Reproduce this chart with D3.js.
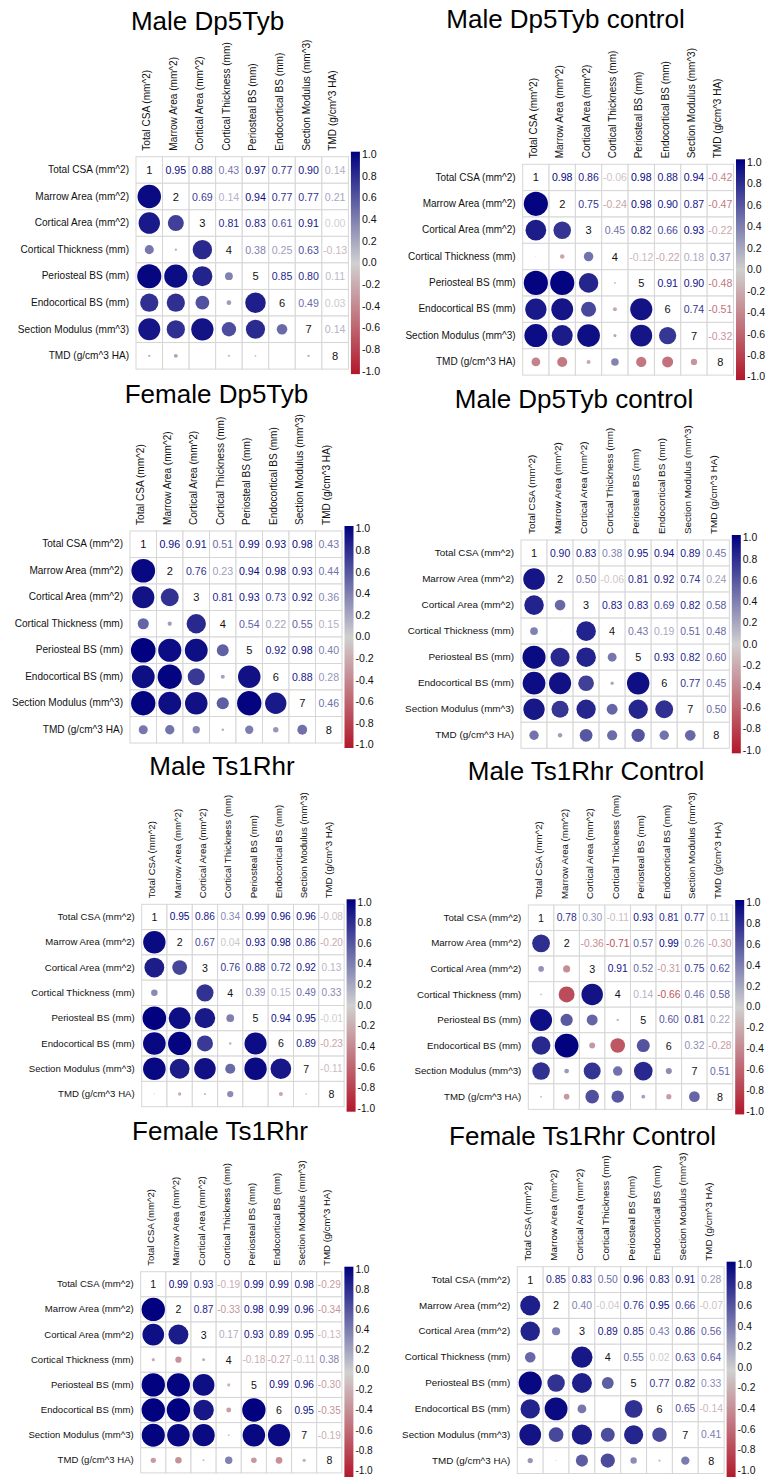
<!DOCTYPE html>
<html>
<head>
<meta charset="utf-8">
<script src="https://cdn.jsdelivr.net/npm/d3@7"></script>
<style>
  html, body { margin: 0; padding: 0; background: #fff; }
  svg { display: block; font-family: "Liberation Sans", Arial, sans-serif; }
</style>
</head>
<body>
<svg id="chart" width="766" height="1477"></svg>
<script>
// Bone parameters compared in every correlation matrix
const variables = [
  "Total CSA (mm^2)", "Marrow Area (mm^2)", "Cortical Area (mm^2)",
  "Cortical Thickness (mm)", "Periosteal BS (mm)", "Endocortical BS (mm)",
  "Section Modulus (mm^3)", "TMD (g/cm^3 HA)"
];

const panelTitles = [
  "Male Dp5Tyb", "Male Dp5Tyb control",
  "Female Dp5Tyb", "Male Dp5Tyb control",
  "Male Ts1Rhr", "Male Ts1Rhr Control",
  "Female Ts1Rhr", "Female Ts1Rhr Control"
];

// Upper-triangle Pearson coefficients, row by row (row i holds columns i+1..8)
const maleDp5Tyb = [
  [0.95, 0.88, 0.43, 0.97, 0.77, 0.90, 0.14],
  [0.69, 0.14, 0.94, 0.77, 0.77, 0.21],
  [0.81, 0.83, 0.61, 0.91, 0.00],
  [0.38, 0.25, 0.63, -0.13],
  [0.85, 0.80, 0.11],
  [0.49, 0.03],
  [0.14]
];
const maleDp5TybControlA = [
  [0.98, 0.86, -0.06, 0.98, 0.88, 0.94, -0.42],
  [0.75, -0.24, 0.98, 0.90, 0.87, -0.47],
  [0.45, 0.82, 0.66, 0.93, -0.22],
  [-0.12, -0.22, 0.18, 0.37],
  [0.91, 0.90, -0.48],
  [0.74, -0.51],
  [-0.32]
];
const femaleDp5Tyb = [
  [0.96, 0.91, 0.51, 0.99, 0.93, 0.98, 0.43],
  [0.76, 0.23, 0.94, 0.98, 0.93, 0.44],
  [0.81, 0.93, 0.73, 0.92, 0.36],
  [0.54, 0.22, 0.55, 0.15],
  [0.92, 0.98, 0.40],
  [0.88, 0.28],
  [0.46]
];
const maleDp5TybControlB = [
  [0.90, 0.83, 0.38, 0.95, 0.94, 0.89, 0.45],
  [0.50, -0.06, 0.81, 0.92, 0.74, 0.24],
  [0.83, 0.83, 0.69, 0.82, 0.58],
  [0.43, 0.19, 0.51, 0.48],
  [0.93, 0.82, 0.60],
  [0.77, 0.45],
  [0.50]
];
const maleTs1Rhr = [
  [0.95, 0.86, 0.34, 0.99, 0.96, 0.96, -0.08],
  [0.67, 0.04, 0.93, 0.98, 0.86, -0.20],
  [0.76, 0.88, 0.72, 0.92, 0.13],
  [0.39, 0.15, 0.49, 0.33],
  [0.94, 0.95, -0.01],
  [0.89, -0.23],
  [-0.11]
];
const maleTs1RhrControl = [
  [0.78, 0.30, -0.11, 0.93, 0.81, 0.77, 0.11],
  [-0.36, -0.71, 0.57, 0.99, 0.26, -0.30],
  [0.91, 0.52, -0.31, 0.75, 0.62],
  [0.14, -0.66, 0.46, 0.58],
  [0.60, 0.81, 0.22],
  [0.32, -0.28],
  [0.51]
];
const femaleTs1Rhr = [
  [0.99, 0.93, -0.19, 0.99, 0.99, 0.98, -0.29],
  [0.87, -0.33, 0.98, 0.99, 0.96, -0.34],
  [0.17, 0.93, 0.89, 0.95, -0.13],
  [-0.18, -0.27, -0.11, 0.38],
  [0.99, 0.96, -0.30],
  [0.95, -0.35],
  [-0.19]
];
const femaleTs1RhrControl = [
  [0.85, 0.83, 0.50, 0.96, 0.83, 0.91, 0.28],
  [0.40, -0.04, 0.76, 0.95, 0.66, -0.07],
  [0.89, 0.85, 0.43, 0.86, 0.56],
  [0.55, 0.02, 0.63, 0.64],
  [0.77, 0.82, 0.33],
  [0.65, -0.14],
  [0.41]
];

const panelData = [
  maleDp5Tyb, maleDp5TybControlA, femaleDp5Tyb, maleDp5TybControlB,
  maleTs1Rhr, maleTs1RhrControl, femaleTs1Rhr, femaleTs1RhrControl
];

const colorTicks = [1.0, 0.8, 0.6, 0.4, 0.2, 0.0, -0.2, -0.4, -0.6, -0.8, -1.0];

// Placement of each matrix on the page: grid origin, cell size, title anchor
const layout = [
  { x0: 136.0, y0: 156.7, cell: 26.55, tx: 207.5, ty: 30 },
  { x0: 522.7, y0: 164.3, cell: 26.35, tx: 565.5, ty: 28 },
  { x0: 130.0, y0: 531.0, cell: 26.50, tx: 216.5, ty: 403 },
  { x0: 521.0, y0: 540.0, cell: 26.04, tx: 574.0, ty: 408 },
  { x0: 141.7, y0: 904.3, cell: 25.30, tx: 222.0, ty: 775 },
  { x0: 528.3, y0: 905.0, cell: 25.55, tx: 586.0, ty: 780 },
  { x0: 140.7, y0: 1271.7, cell: 25.15, tx: 220.0, ty: 1140 },
  { x0: 517.3, y0: 1266.7, cell: 25.85, tx: 582.5, ty: 1145 }
];

const pageHeight = 1477;

const color = d3.scaleLinear()
  .domain([-1, 0, 1])
  .range(["#B2182B", "#D0D0D0", "#00007F"])
  .interpolate(d3.interpolateRgb);

const svg = d3.select("#chart");
const defs = svg.append("defs");

// Shared vertical gradient for the colour keys
const grad = defs.append("linearGradient")
  .attr("id", "corrKey")
  .attr("x1", 0).attr("y1", 0).attr("x2", 0).attr("y2", 1);
d3.range(0, 1.0001, 0.05).forEach(t => {
  grad.append("stop").attr("offset", t).attr("stop-color", color(1 - 2 * t));
});

const n = variables.length;

function fullMatrix(upper) {
  return d3.range(n).map(i => d3.range(n).map(j => {
    if (i === j) return 1;
    return i < j ? upper[i][j - i - 1] : upper[j][i - j - 1];
  }));
}

panelData.forEach((upper, p) => {
  const L = layout[p];
  const m = fullMatrix(upper);
  const size = L.cell * n;
  const x = d3.scaleBand().domain(d3.range(n)).range([L.x0, L.x0 + size]);
  const y = d3.scaleBand().domain(d3.range(n)).range([L.y0, L.y0 + size]);
  const r = d3.scalePow().exponent(1.2).domain([0, 1]).range([0, L.cell * 0.47]);
  const numSize = L.cell * 0.4;
  const labSize = L.cell * 0.38;

  const g = svg.append("g").attr("class", "panel");

  g.append("text")
    .attr("x", L.tx).attr("y", L.ty)
    .attr("text-anchor", "middle")
    .attr("font-size", 26)
    .attr("fill", "#000")
    .text(panelTitles[p]);

  const cells = [];
  m.forEach((row, i) => row.forEach((v, j) => cells.push({ i, j, v })));

  // cell grid
  g.selectAll("rect.cell").data(cells).join("rect")
    .attr("class", "cell")
    .attr("x", d => x(d.j)).attr("y", d => y(d.i))
    .attr("width", x.bandwidth()).attr("height", y.bandwidth())
    .attr("fill", "#fff")
    .attr("stroke", "#d6d6d6")
    .attr("stroke-width", 1);

  // lower triangle: circles
  g.selectAll("circle.mark").data(cells.filter(d => d.i > d.j)).join("circle")
    .attr("class", "mark")
    .attr("cx", d => x(d.j) + x.bandwidth() / 2)
    .attr("cy", d => y(d.i) + y.bandwidth() / 2)
    .attr("r", d => r(Math.abs(d.v)))
    .attr("fill", d => color(d.v));

  // upper triangle: coefficients
  g.selectAll("text.coef").data(cells.filter(d => d.i < d.j)).join("text")
    .attr("class", "coef")
    .attr("x", d => x(d.j) + x.bandwidth() / 2)
    .attr("y", d => y(d.i) + y.bandwidth() / 2)
    .attr("text-anchor", "middle")
    .attr("dominant-baseline", "central")
    .attr("font-size", numSize)
    .attr("fill", d => color(d.v))
    .text(d => d.v.toFixed(2));

  // diagonal: variable index
  g.selectAll("text.diag").data(cells.filter(d => d.i === d.j)).join("text")
    .attr("class", "diag")
    .attr("x", d => x(d.j) + x.bandwidth() / 2)
    .attr("y", d => y(d.i) + y.bandwidth() / 2)
    .attr("text-anchor", "middle")
    .attr("dominant-baseline", "central")
    .attr("font-size", numSize + 0.5)
    .attr("fill", "#111")
    .text(d => d.i + 1);

  // row labels
  const rowAxis = d3.axisLeft(d3.scaleBand().domain(variables).range([L.y0, L.y0 + size]))
    .tickSize(0).tickPadding(7);
  const ra = g.append("g").attr("transform", `translate(${L.x0},0)`).call(rowAxis);
  ra.select(".domain").remove();
  ra.selectAll("text").attr("font-size", labSize).attr("fill", "#111")
    .attr("font-family", "Liberation Sans, Arial, sans-serif");

  // column labels (vertical)
  g.selectAll("text.col").data(variables).join("text")
    .attr("class", "col")
    .attr("transform", (d, j) => `translate(${x(j) + x.bandwidth() / 2 + 1},${L.y0 - 6}) rotate(-90)`)
    .attr("text-anchor", "start")
    .attr("font-size", labSize)
    .attr("fill", "#111")
    .text(d => d);

  // colour key
  const barX = L.x0 + size + 2.5;
  const barTop = L.y0 - 5;
  const barBottom = L.y0 + size + 5;
  g.append("rect")
    .attr("x", barX).attr("y", barTop)
    .attr("width", 9).attr("height", barBottom - barTop)
    .attr("fill", "url(#corrKey)");
  const keyLow = Math.min(barBottom - 3.5, pageHeight - 7);
  const keyScale = d3.scaleLinear().domain([1, -1]).range([barTop + 2.5, keyLow]);
  const keyAxis = d3.axisRight(keyScale)
    .tickValues(colorTicks).tickSize(0).tickPadding(2)
    .tickFormat(v => v.toFixed(1));
  const ka = g.append("g").attr("transform", `translate(${barX + 9},0)`).call(keyAxis);
  ka.select(".domain").remove();
  ka.selectAll("text").attr("font-size", L.cell * 0.4).attr("fill", "#111")
    .attr("font-family", "Liberation Sans, Arial, sans-serif");
});
</script>
</body>
</html>
